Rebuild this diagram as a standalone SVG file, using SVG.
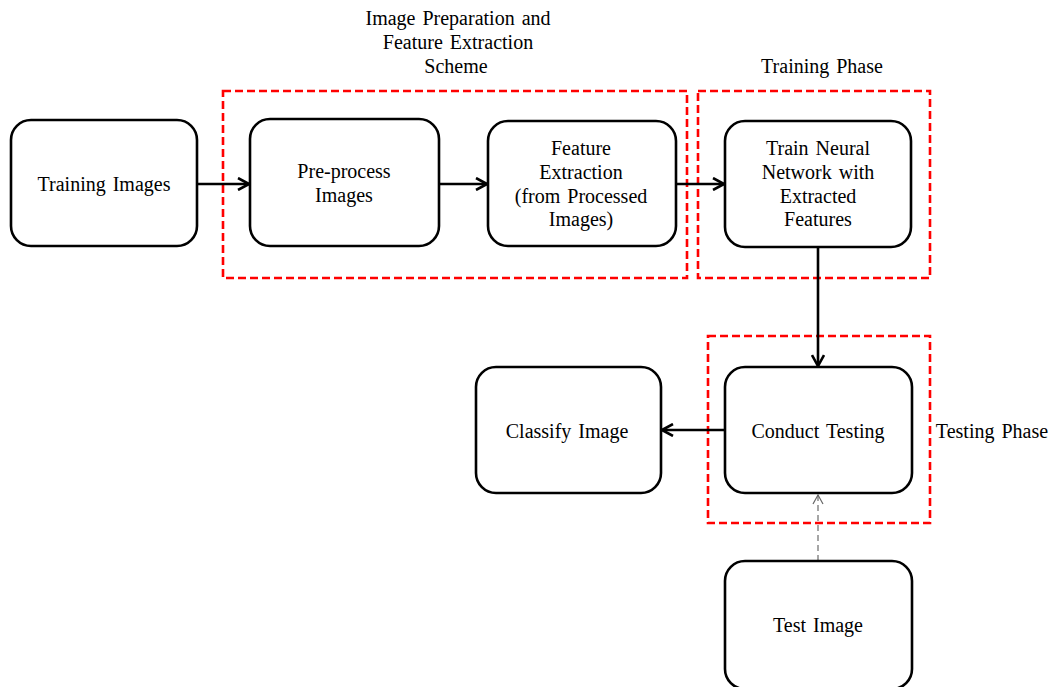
<svg xmlns="http://www.w3.org/2000/svg" width="1053" height="687" viewBox="0 0 1053 687">
<style>
.node{fill:#fff;stroke:#000;stroke-width:2.6}
.grp{fill:none;stroke:#f00;stroke-width:2.6;stroke-dasharray:8 4}
.t{font-family:"Liberation Serif","Times New Roman",serif;font-size:20px;fill:#000;text-anchor:middle;dominant-baseline:central;word-spacing:2px}
.c{fill:none;stroke:#000;stroke-width:2.6}
.d{fill:none;stroke:#777;stroke-width:1.3;stroke-dasharray:6 4}
</style>
<defs>
<marker id="ah" viewBox="0 0 14 14" refX="13" refY="7" markerWidth="14" markerHeight="14" markerUnits="userSpaceOnUse" orient="auto">
<path d="M2,1 L13,7 L2,13" fill="none" stroke="#000" stroke-width="2.6"/>
</marker>
<marker id="ahg" viewBox="0 0 12 12" refX="11" refY="6" markerWidth="12" markerHeight="12" markerUnits="userSpaceOnUse" orient="auto">
<path d="M2,1 L11,6 L2,11" fill="none" stroke="#666" stroke-width="1.2"/>
</marker>
</defs>
<g id="groups">
<rect class="grp" x="223" y="91" width="464" height="187"/>
<rect class="grp" x="698" y="91" width="232" height="187"/>
<rect class="grp" x="708" y="336" width="222" height="187"/>
<text class="t" x="458" y="18">Image Preparation and</text>
<text class="t" x="458" y="42">Feature Extraction</text>
<text class="t" x="456" y="66">Scheme</text>
<text class="t" x="822" y="66">Training Phase</text>
<text class="t" x="992" y="431">Testing Phase</text>
</g>
<g id="connectors">
<path class="c" d="M198,184 L249,184" marker-end="url(#ah)"/>
<path class="c" d="M439,184 L487,184" marker-end="url(#ah)"/>
<path class="c" d="M676,184 L724,184" marker-end="url(#ah)"/>
<path class="c" d="M818,247 L818,366" marker-end="url(#ah)"/>
<path class="c" d="M725,430 L662,430" marker-end="url(#ah)"/>
<path class="d" d="M818,561 L818,495" marker-end="url(#ahg)"/>
</g>
<g id="training-images">
<rect class="node" x="11" y="120" width="186" height="126" rx="20"/>
<text class="t" x="104" y="184">Training Images</text>
</g>
<g id="pre-process">
<rect class="node" x="250" y="119" width="189" height="127" rx="20"/>
<text class="t" x="344" y="171">Pre-process</text>
<text class="t" x="344" y="195">Images</text>
</g>
<g id="feature-extraction">
<rect class="node" x="488" y="121" width="188" height="125" rx="20"/>
<text class="t" x="581" y="148">Feature</text>
<text class="t" x="581" y="172">Extraction</text>
<text class="t" x="581" y="196">(from Processed</text>
<text class="t" x="581" y="219">Images)</text>
</g>
<g id="train-nn">
<rect class="node" x="725" y="121" width="186" height="126" rx="20"/>
<text class="t" x="818" y="148">Train Neural</text>
<text class="t" x="818" y="172">Network with</text>
<text class="t" x="818" y="196">Extracted</text>
<text class="t" x="818" y="219">Features</text>
</g>
<g id="conduct-testing">
<rect class="node" x="725" y="367" width="187" height="126" rx="20"/>
<text class="t" x="818" y="431">Conduct Testing</text>
</g>
<g id="classify-image">
<rect class="node" x="476" y="367" width="185" height="126" rx="20"/>
<text class="t" x="567" y="431">Classify Image</text>
</g>
<g id="test-image">
<rect class="node" x="725" y="561" width="187" height="128" rx="20"/>
<text class="t" x="818" y="625">Test Image</text>
</g>
</svg>
